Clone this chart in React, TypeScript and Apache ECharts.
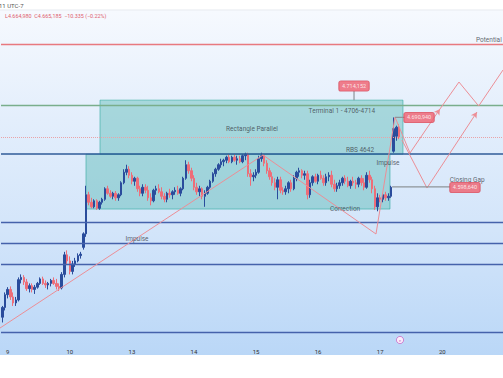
import React, { useEffect, useRef } from "react";
import * as echarts from "echarts";

// ---- axis ----
const dayLabels = ["9", "10", "13", "14", "15", "16", "17", "20"];
const firstDaySlot = 2;
const slotsPerDay = 23;
const slotCount = 186;

// ---- candles (XAU, hourly) ----
const opens = [
  4425, 4438, 4455, 4462, 4452, 4444, 4448, 4475, 4478, 4472, 4463, 4467, 4462, 4465, 4470, 4476, 4470, 4468, 4470, 4474,
  4470, 4466, 4464, 4482, 4508, 4500, 4486, 4496, 4500, 4507, 4518, 4536, 4588, 4578, 4572, 4580, 4570, 4578, 4582, 4596,
  4590, 4586, 4590, 4584, 4588, 4604, 4618, 4622, 4614, 4606, 4610, 4596, 4590, 4598, 4594, 4584, 4580, 4594, 4596, 4592,
  4586, 4582, 4590, 4588, 4592, 4594, 4590, 4596, 4610, 4628, 4620, 4610, 4598, 4592, 4596, 4586, 4590, 4598, 4606, 4616,
  4622, 4628, 4632, 4634, 4638, 4632, 4638, 4634, 4636, 4632, 4640, 4642, 4616, 4612, 4614, 4618, 4636, 4640, 4630, 4620,
  4612, 4604, 4598, 4608, 4594, 4592, 4596, 4604, 4596, 4610, 4618, 4620, 4614, 4616, 4588, 4604, 4612, 4606, 4614, 4610,
  4604, 4612, 4614, 4602, 4596, 4600, 4604, 4610, 4606, 4600, 4606, 4604, 4602, 4610, 4604, 4598, 4614, 4608, 4596, 4572,
  4584, 4582, 4588, 4584, 4586, 4646, 4666, 4678,
];
const highs = [
  4440, 4458, 4465, 4466, 4458, 4452, 4478, 4482, 4481, 4476, 4470, 4470, 4468, 4472, 4478, 4479, 4474, 4472, 4476, 4478,
  4476, 4470, 4485, 4512, 4514, 4506, 4500, 4504, 4510, 4512, 4538, 4600, 4592, 4584, 4582, 4582, 4580, 4584, 4598, 4600,
  4594, 4592, 4593, 4590, 4606, 4622, 4628, 4626, 4618, 4612, 4612, 4600, 4602, 4602, 4600, 4590, 4596, 4600, 4602, 4598,
  4590, 4592, 4596, 4594, 4598, 4600, 4598, 4612, 4634, 4632, 4624, 4614, 4604, 4600, 4598, 4594, 4600, 4608, 4618, 4624,
  4630, 4636, 4636, 4640, 4642, 4640, 4642, 4640, 4640, 4642, 4644, 4644, 4622, 4618, 4622, 4640, 4644, 4642, 4634, 4624,
  4618, 4610, 4612, 4612, 4598, 4600, 4606, 4608, 4614, 4620, 4624, 4622, 4620, 4620, 4608, 4614, 4616, 4616, 4620, 4614,
  4616, 4618, 4620, 4608, 4604, 4608, 4612, 4614, 4612, 4608, 4612, 4608, 4612, 4614, 4610, 4618, 4620, 4612, 4600, 4590,
  4588, 4590, 4592, 4590, 4600, 4691, 4680, 4682,
];
const lows = [
  4418, 4434, 4450, 4448, 4440, 4440, 4446, 4470, 4468, 4460, 4458, 4458, 4456, 4463, 4468, 4468, 4464, 4462, 4466, 4468,
  4462, 4460, 4462, 4478, 4496, 4482, 4482, 4492, 4498, 4503, 4515, 4532, 4574, 4570, 4570, 4568, 4568, 4575, 4580, 4588,
  4584, 4582, 4580, 4580, 4586, 4602, 4614, 4610, 4602, 4600, 4592, 4586, 4586, 4590, 4580, 4574, 4578, 4588, 4590, 4582,
  4578, 4578, 4584, 4582, 4588, 4588, 4586, 4594, 4608, 4616, 4606, 4594, 4588, 4586, 4582, 4572, 4588, 4596, 4604, 4612,
  4620, 4624, 4626, 4630, 4630, 4630, 4632, 4628, 4630, 4630, 4634, 4612, 4600, 4606, 4610, 4616, 4632, 4626, 4616, 4608,
  4600, 4594, 4582, 4590, 4588, 4588, 4590, 4592, 4594, 4606, 4612, 4610, 4608, 4582, 4584, 4600, 4604, 4602, 4608, 4600,
  4600, 4606, 4598, 4592, 4592, 4596, 4600, 4602, 4598, 4596, 4600, 4596, 4598, 4600, 4594, 4596, 4604, 4590, 4568, 4566,
  4578, 4578, 4580, 4580, 4584, 4644, 4660, 4662,
];
const closes = [
  4438, 4455, 4462, 4452, 4444, 4448, 4475, 4478, 4472, 4463, 4467, 4462, 4465, 4470, 4476, 4470, 4468, 4470, 4474, 4470,
  4466, 4464, 4482, 4508, 4500, 4486, 4496, 4500, 4507, 4509, 4536, 4588, 4578, 4572, 4580, 4570, 4578, 4582, 4596, 4590,
  4586, 4590, 4584, 4588, 4604, 4618, 4622, 4614, 4606, 4610, 4596, 4590, 4598, 4594, 4584, 4580, 4594, 4596, 4592, 4586,
  4582, 4590, 4588, 4592, 4594, 4590, 4596, 4610, 4628, 4620, 4610, 4598, 4592, 4596, 4586, 4590, 4598, 4606, 4616, 4622,
  4628, 4632, 4634, 4638, 4632, 4638, 4634, 4636, 4632, 4640, 4642, 4616, 4612, 4614, 4618, 4636, 4640, 4630, 4620, 4612,
  4604, 4598, 4608, 4594, 4592, 4596, 4604, 4596, 4610, 4618, 4620, 4614, 4616, 4588, 4604, 4612, 4606, 4614, 4610, 4604,
  4612, 4614, 4602, 4596, 4600, 4604, 4610, 4606, 4600, 4606, 4604, 4602, 4610, 4604, 4598, 4614, 4608, 4596, 4572, 4584,
  4582, 4588, 4584, 4586, 4598, 4676, 4678, 4665.185,
];

// ---- levels ----
const potentialLevel = 4789;
const terminalLevel = 4707;
const lastPrice = 4665.185;
const blueLevels = [4642, 4551, 4523, 4495, 4405];

// ---- drawings (x in bar-slot units, y in price) ----
const upperRect = [[36.18, 4714], [148.44, 4642]];
const lowerRect = [[30.99, 4642], [143.63, 4569]];
const impulseTrend = [[-0.87, 4410.6], [96.57, 4640.9]];
const correctionLeg = [[96.57, 4640.9], [138.44, 4535.8], [145.48, 4691.5]];
const projectionA = [[145.48, 4691.5], [151.04, 4643.6]];
const projectionAArrow = [[151.04, 4643.6], [162.15, 4702.2]];
const projectionATail = [[162.15, 4702.2], [169.19, 4738.1], [176.49, 4706.2], [185.5, 4754.1]];
const projectionB = [[148.07, 4660.9], [157.34, 4597.0]];
const projectionBArrow = [[157.34, 4597.0], [175.86, 4698.2]];

const notes = [
  { text: "Rectangle Parallel", x: 92.5, y: 4675.6 },
  { text: "Terminal 1 - 4706-4714", x: 125.8, y: 4699.5 },
  { text: "RBS 4642", x: 132.5, y: 4647.6 },
  { text: "Impulse", x: 142.9, y: 4630.3 },
  { text: "Closing Gap", x: 172.2, y: 4607.7 },
  { text: "Correction", x: 127.0, y: 4569.0 },
  { text: "Impulse", x: 49.9, y: 4529.0 },
];
const potentialNote = { text: "Potential", x: 185.4, y: 4794 };

const priceTags = [
  { text: "4.714,152", x: 130.3, y: 4732.8 },
  { text: "4.690,940", x: 154.4, y: 4690.9 },
  { text: "4.598,640", x: 171.4, y: 4597.7 },
];
const tagLinks = [
  [[130.3, 4726], [130.3, 4714]],
  [[145.48, 4691], [149.2, 4691]],
  [[144.4, 4598.6], [165.9, 4598.6]],
];

const headerTime = "11 UTC-7";
const headerQuote = "L4.664,980  C4.665,185  \u221210.335 (\u22120.22%)";

export default function App() {
  const ref = useRef<HTMLDivElement>(null);

  useEffect(() => {
    document.body.style.margin = "0";
    const chart = echarts.init(ref.current as HTMLDivElement, null, { renderer: "svg" });
    const categories = Array.from({ length: slotCount }, (_, i) => String(i));
    const candleData = opens.map((o, i) => [o, closes[i], lows[i], highs[i]]);
    const drawColor = "#ec8e96";
    const font = "Roboto, sans-serif";

    const pathSeries = (data: number[][], z = 5) => ({
      type: "line",
      xAxisIndex: 1,
      yAxisIndex: 0,
      data,
      symbol: "none",
      silent: true,
      lineStyle: { color: drawColor, width: 1 },
      z,
    });
    const arrowSeries = (seg: number[][]) => ({
      type: "line",
      xAxisIndex: 1,
      yAxisIndex: 0,
      data: [],
      silent: true,
      markLine: {
        silent: true,
        symbol: ["none", "arrow"],
        symbolSize: [5, 6],
        label: { show: false },
        lineStyle: { color: drawColor, width: 1, type: "solid" },
        data: [[{ coord: seg[0] }, { coord: seg[1] }]],
      },
      z: 5,
    });

    const levelLine = (v: number, color: string, width: number, type = "solid") => ({
      yAxis: v,
      lineStyle: { color, width, type },
    });

    chart.setOption({
      animation: false,
      backgroundColor: "transparent",
      grid: { left: 1, right: 0, top: 10, bottom: 36, containLabel: false },
      xAxis: [
        {
          type: "category",
          data: categories,
          boundaryGap: true,
          axisLine: { show: false },
          axisTick: { show: false },
          splitLine: { show: false },
          axisLabel: {
            interval: (idx: number) =>
              idx >= firstDaySlot && (idx - firstDaySlot) % slotsPerDay === 0 &&
              (idx - firstDaySlot) / slotsPerDay < dayLabels.length,
            formatter: (_v: string, idx: number) => dayLabels[(idx - firstDaySlot) / slotsPerDay] ?? "",
            fontSize: 6,
            color: "#333",
            fontFamily: font,
            margin: 6,
          },
        },
        { type: "value", min: -0.5, max: slotCount - 0.5, show: false },
      ],
      yAxis: { type: "value", min: 4392, max: 4834, show: false, splitLine: { show: false } },
      graphic: [
        { type: "text", left: -1, top: 2, style: { text: headerTime, fontSize: 6, fill: "#555", fontFamily: font } },
        { type: "line", shape: { x1: 0, y1: 10, x2: 503, y2: 10 }, style: { stroke: "#e4e8ef", lineWidth: 1 } },
        { type: "text", left: 5, top: 13, style: { text: headerQuote, fontSize: 5.4, fill: "#e0606e", fontFamily: font } },
        { type: "circle", shape: { cx: 400, cy: 340, r: 3.6 }, style: { fill: "#fbeefb", stroke: "#c96ac6", lineWidth: 0.8 } },
        { type: "text", x: 400, y: 340, style: { text: "e", fontSize: 4, fill: "#c96ac6", align: "center", verticalAlign: "middle", fontFamily: font } },
      ],
      series: [
        {
          type: "line",
          xAxisIndex: 1,
          yAxisIndex: 0,
          data: [],
          silent: true,
          z: 1,
          markArea: {
            silent: true,
            itemStyle: { color: "rgba(38,166,154,0.33)", borderColor: "rgba(38,166,154,0.55)", borderWidth: 1 },
            data: [
              [{ coord: upperRect[0] }, { coord: upperRect[1] }],
              [{ coord: lowerRect[0] }, { coord: lowerRect[1] }],
            ],
          },
          markLine: {
            silent: true,
            symbol: ["none", "none"],
            label: { show: false },
            data: [
              levelLine(potentialLevel, "#e8797f", 1.4),
              levelLine(terminalLevel, "#7aae8c", 1.3),
              levelLine(lastPrice, "#e9a3a8", 1, "dotted"),
              levelLine(blueLevels[0], "#2f5b98", 1.6),
              ...blueLevels.slice(1).map((v) => levelLine(v, "#4562ab", 1.4)),
            ],
          },
        },
        {
          type: "candlestick",
          xAxisIndex: 0,
          yAxisIndex: 0,
          data: candleData,
          barWidth: 2,
          silent: true,
          z: 3,
          itemStyle: {
            color: "#2a4c9c",
            color0: "#ee6d78",
            borderColor: "#2a4c9c",
            borderColor0: "#ee6d78",
            borderWidth: 1,
          },
        },
        pathSeries(impulseTrend),
        pathSeries(correctionLeg),
        pathSeries(projectionA),
        pathSeries(projectionATail),
        pathSeries(projectionB),
        arrowSeries(projectionAArrow),
        arrowSeries(projectionBArrow),
        ...tagLinks.map((seg) => ({
          type: "line",
          xAxisIndex: 1,
          yAxisIndex: 0,
          data: seg,
          symbol: "none",
          silent: true,
          lineStyle: { color: "#8e9499", width: 1.2 },
          z: 6,
        })),
        {
          type: "scatter",
          xAxisIndex: 1,
          yAxisIndex: 0,
          symbolSize: 0,
          silent: true,
          z: 8,
          data: notes.map((n) => ({ name: n.text, value: [n.x, n.y] })),
          label: {
            show: true,
            position: "inside",
            formatter: "{b}",
            fontSize: 6.5,
            color: "#3a3f48",
            fontFamily: font,
          },
        },
        {
          type: "scatter",
          xAxisIndex: 1,
          yAxisIndex: 0,
          symbolSize: 0,
          silent: true,
          z: 8,
          data: [{ name: potentialNote.text, value: [potentialNote.x, potentialNote.y] }],
          label: {
            show: true,
            position: "left",
            distance: 1,
            formatter: "{b}",
            fontSize: 6.5,
            color: "#3a3f48",
            fontFamily: font,
          },
        },
        {
          type: "scatter",
          xAxisIndex: 1,
          yAxisIndex: 0,
          symbolSize: 0,
          silent: true,
          z: 9,
          data: priceTags.map((t) => ({ name: t.text, value: [t.x, t.y] })),
          label: {
            show: true,
            position: "inside",
            formatter: "{b}",
            fontSize: 5.5,
            color: "#ffffff",
            fontFamily: font,
            backgroundColor: "#ef5f6e",
            borderColor: "#d24a5a",
            borderWidth: 0.6,
            borderRadius: 2,
            padding: [2, 3, 2, 3],
          },
        },
      ],
    });

    return () => chart.dispose();
  }, []);

  return (
    <div
      ref={ref}
      style={{
        position: "fixed",
        left: 0,
        top: 0,
        width: 503,
        height: 378,
        background:
          "linear-gradient(to bottom, #ffffff 0px, #ffffff 10px, #f6f9fe 11px, #e3eefc 120px, #d3e5fa 230px, #bad7f7 355px, #ffffff 355px, #ffffff 378px)",
      }}
    />
  );
}
